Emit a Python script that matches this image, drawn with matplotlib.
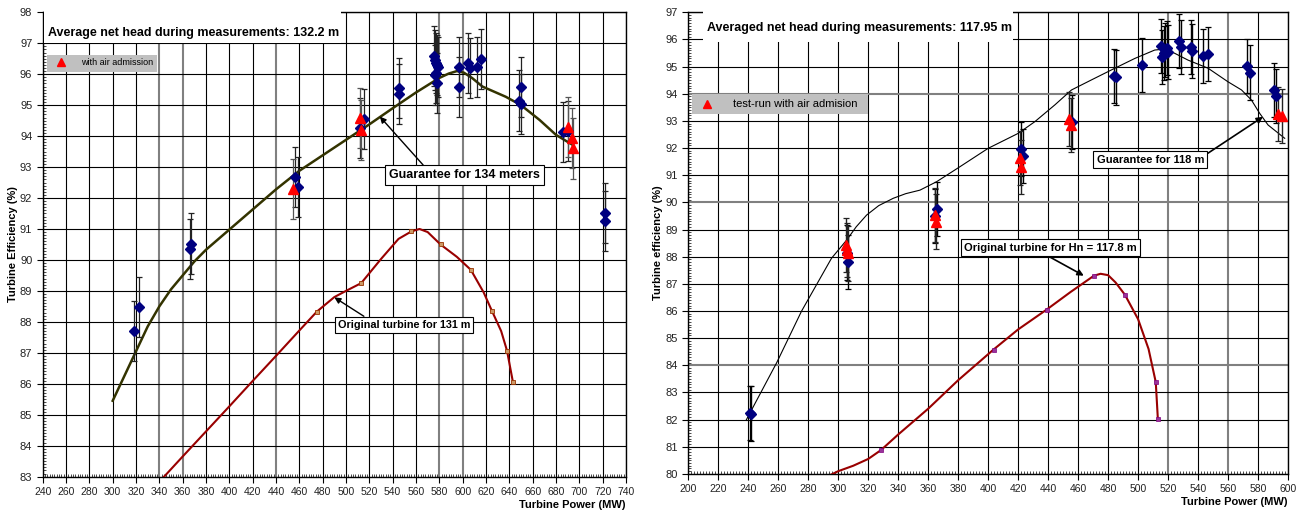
import numpy as np
import matplotlib
matplotlib.use("Agg")
import matplotlib.pyplot as plt
from matplotlib.patches import Rectangle

plt.rcParams['font.family'] = ['Liberation Sans', 'DejaVu Sans']

# ---------------- left chart (132.2 m) ----------------
g1_p = [300, 310, 320, 330, 340, 350, 360, 370, 380, 400, 420, 440, 460, 480, 500, 520,
        540, 560, 580, 588, 595, 601, 608, 617, 637, 650, 666, 680, 695]
g1_e = [85.45, 86.25, 87.05, 87.85, 88.5, 89.05, 89.5, 89.95, 90.33, 90.98, 91.63, 92.28,
        92.88, 93.38, 93.88, 94.38, 94.9, 95.41, 95.88, 96.02, 96.1, 96.05, 95.88, 95.6,
        95.27, 95.0, 94.52, 94.04, 93.7]

o1_p = [338, 360, 380, 400, 420, 440, 460, 475, 490, 500, 513, 530, 545, 556, 563, 570,
        581, 595, 607, 618, 625, 633, 638, 643]
o1_e = [82.75, 83.65, 84.46, 85.27, 86.09, 86.9, 87.72, 88.33, 88.8, 89.0, 89.25, 90.03,
        90.68, 90.92, 91.0, 90.9, 90.5, 90.1, 89.68, 88.95, 88.36, 87.7, 87.07, 86.07]
o1_mark_p = [475, 513, 556, 581, 607, 625, 638, 643]
o1_mark_e = [88.33, 89.25, 90.92, 90.5, 89.68, 88.36, 87.07, 86.07]

b1_p = [318.5, 322.8, 366.6, 367.5, 456.6, 458.6, 512.3, 515.1, 545.4, 545.6,
        575, 576, 577, 578, 579, 577, 576, 578,
        596.5, 596.5, 604.7, 606.7, 612.7, 615.3,
        648.4, 649.9, 650.4, 686.3, 690, 722.1, 722.1]
b1_e = [87.69, 88.47, 90.35, 90.53, 92.69, 92.37, 94.25, 94.55, 95.35, 95.55,
        96.59, 96.47, 96.36, 96.31, 96.23, 96.05, 95.97, 95.71,
        96.24, 95.6, 96.35, 96.19, 96.22, 96.49,
        95.15, 95.04, 95.6, 94.12, 94.17, 91.53, 91.26]
r1_p = [454.6, 512.3, 513, 690.5, 693.4, 694.3]
r1_e = [92.29, 94.57, 94.2, 94.28, 93.93, 93.6]
err1 = 0.97

# ---------------- right chart (117.95 m) ----------------
g2_p = [238.5, 259, 275.5, 295.5, 305.6, 312, 318.9, 327, 336.7, 345, 354.5, 365.6, 381.1,
        400, 420, 431.1, 444.5, 455.6, 468.9, 484.5, 497.8, 511.1, 516.7, 522.3, 533.3,
        546.7, 560, 569, 575.6, 581.1, 586.7, 597.8]
g2_e = [81.97, 84.1, 85.99, 87.94, 88.61, 89.1, 89.53, 89.88, 90.15, 90.32, 90.45, 90.76,
        91.31, 91.99, 92.54, 92.97, 93.59, 94.14, 94.51, 94.94, 95.3, 95.61, 95.64, 95.55,
        95.24, 94.94, 94.44, 94.14, 93.77, 93.28, 92.85, 92.36]

o2_p = [294.8, 300, 310, 320, 328.6, 340, 360, 380, 403.6, 420, 439, 455, 470.6, 475,
        480, 485, 491.2, 500, 507, 511.8, 513.2]
o2_e = [79.96, 80.1, 80.3, 80.55, 80.88, 81.45, 82.4, 83.45, 84.58, 85.32, 86.05, 86.7,
        87.3, 87.37, 87.32, 87.05, 86.6, 85.7, 84.6, 83.38, 82.02]
o2_mark_p = [328.6, 403.6, 439, 470.6, 491.2, 511.8, 513.2]
o2_mark_e = [80.88, 84.58, 86.05, 87.3, 86.6, 83.38, 82.02]

b2_p = [241, 242, 306.3, 306, 364.4, 365.6, 422.2, 423.3, 455.6, 484, 485, 502.3,
        515.6, 516, 517, 518, 519, 520, 527.1, 528.9, 535.6, 536, 543.3, 546.7,
        572.9, 574.9, 590.7, 592.2]
b2_e = [82.25, 82.22, 87.81, 88.15, 89.5, 89.76, 91.96, 91.72, 92.97, 94.65, 94.6, 95.06,
        95.75, 95.35, 95.5, 95.6, 95.68, 95.55, 95.95, 95.71, 95.73, 95.57, 95.4, 95.46,
        95.02, 94.78, 94.14, 93.92]
r2_p = [305.5, 306, 306.8, 364.8, 365.4, 421.1, 422, 453.8, 455.1, 593.3, 596]
r2_e = [88.43, 88.25, 88.12, 89.53, 89.29, 91.64, 91.31, 93.06, 92.85, 93.25, 93.19]
err2 = 1.0


def style_axes(ax, xlim, ylim, gray_x, gray_y):
    ax.set_xlim(*xlim)
    ax.set_ylim(*ylim)
    ax.set_xticks(np.arange(xlim[0], xlim[1] + 1, 20))
    ax.set_yticks(np.arange(ylim[0], ylim[1] + 1, 1))
    ax.set_xticks(np.arange(xlim[0], xlim[1] + 1, 2), minor=True)
    ax.set_yticks(np.arange(ylim[0], ylim[1] + 0.01, 0.1), minor=True)
    ax.tick_params(which='major', direction='out', length=4, width=0.8,
                   labelcolor='#222222')
    ax.tick_params(axis='x', which='major', labelsize=7.5)
    ax.tick_params(axis='y', which='major', labelsize=8)
    ax.tick_params(which='minor', direction='in', length=2.5, width=0.5)
    ax.grid(True, which='major', color='black', lw=0.8)
    for v, ln in zip(ax.get_xticks(), ax.get_xgridlines()):
        if v in gray_x:
            ln.set_color('#808080')
            ln.set_linewidth(1.5)
    for v, ln in zip(ax.get_yticks(), ax.get_ygridlines()):
        if v in gray_y:
            ln.set_color('#808080')
            ln.set_linewidth(1.5)
    ax.set_axisbelow(True)
    for s in ax.spines.values():
        s.set_linewidth(1.0)


fig = plt.figure(figsize=(13.05, 5.15), dpi=100)
ax1 = fig.add_axes([0.03272, 0.07456, 0.44697, 0.90155])
ax2 = fig.add_axes([0.52743, 0.07981, 0.45954, 0.89631])

# ---- left ----
style_axes(ax1, (240, 740), (83, 98), [340, 360, 440, 580, 600], [])
ax1.plot(g1_p, g1_e, color='#333300', lw=1.8, zorder=3)
ax1.plot(o1_p, o1_e, color='#990000', lw=1.5, zorder=3)
ax1.plot(o1_mark_p, o1_mark_e, 's', ms=3, mfc='#cc9966', mec='#993300', mew=0.6, zorder=4)
ax1.errorbar(b1_p, b1_e, yerr=err1, fmt='none', ecolor='#222222', elinewidth=0.9,
             capsize=2.5, capthick=0.9, zorder=4)
ax1.errorbar(r1_p, r1_e, yerr=err1, fmt='none', ecolor='#555555', elinewidth=0.9,
             capsize=2.5, capthick=0.9, zorder=4)
ax1.plot(b1_p, b1_e, 'D', ms=5, color='#000080', zorder=5)
ax1.plot(r1_p, r1_e, '^', ms=6.5, color='#ff0000', zorder=6)

ax1.add_patch(Rectangle((241, 97.02), 255, 1.2, facecolor='white', edgecolor='none',
                        zorder=2.6, clip_on=False))
ax1.text(0.009, 0.955, 'Average net head during measurements: 132.2 m', transform=ax1.transAxes,
         fontsize=9, fontweight='bold', va='center', ha='left', zorder=7)

ax1.add_patch(Rectangle((0.0069, 0.872), 0.1885, 0.036, transform=ax1.transAxes,
                        facecolor='#c0c0c0', edgecolor='none', zorder=6))
ax1.plot([0.0309], [0.892], '^', ms=6, color='#ff0000', transform=ax1.transAxes, zorder=7)
ax1.text(0.0657, 0.892, 'with air admission', transform=ax1.transAxes, fontsize=6.5,
         va='center', ha='left', zorder=7)

ax1.annotate('Guarantee for 134 meters', xy=(529, 94.63), xytext=(601.6, 92.74),
             fontsize=9, fontweight='bold', ha='center', va='center', zorder=8,
             bbox=dict(boxstyle='square,pad=0.3', fc='white', ec='black', lw=0.8),
             arrowprops=dict(arrowstyle='-|>', color='black', lw=1.0, relpos=(0.25, 1.0),
                             mutation_scale=9, shrinkA=0, shrinkB=0))
ax1.annotate('Original turbine for 131 m', xy=(490, 88.79), xytext=(549.7, 87.9),
             fontsize=7.8, fontweight='bold', ha='center', va='center', zorder=8,
             bbox=dict(boxstyle='square,pad=0.3', fc='white', ec='black', lw=0.8),
             arrowprops=dict(arrowstyle='-|>', color='black', lw=1.0, relpos=(0.24, 1.0),
                             mutation_scale=9, shrinkA=0, shrinkB=0))

ax1.set_ylabel('Turbine Efficiency (%)', fontsize=8, fontweight='bold', labelpad=1)
ax1.set_xlabel('Turbine Power (MW)', fontsize=8, fontweight='bold', loc='right', labelpad=2)

# ---- right ----
style_axes(ax2, (200, 600), (80, 97), [520, 560], [84, 90, 94])
ax2.plot(g2_p, g2_e, color='black', lw=0.8, zorder=3)
ax2.plot(o2_p, o2_e, color='#990000', lw=1.5, zorder=3)
ax2.plot(o2_mark_p, o2_mark_e, 's', ms=2.5, mfc='#993399', mec='#800080', mew=0.5, zorder=4)
ax2.errorbar(b2_p, b2_e, yerr=err2, fmt='none', ecolor='black', elinewidth=1.0,
             capsize=2.5, capthick=0.9, zorder=4)
ax2.errorbar(r2_p, r2_e, yerr=err2, fmt='none', ecolor='#222222', elinewidth=1.0,
             capsize=2.5, capthick=0.9, zorder=4)
ax2.plot(b2_p, b2_e, 'D', ms=5, color='#000080', zorder=5)
ax2.plot(r2_p, r2_e, '^', ms=6.5, color='#ff0000', zorder=6)

ax2.add_patch(Rectangle((210, 95.92), 206.5, 1.3, facecolor='white', edgecolor='none',
                        zorder=2.6, clip_on=False))
ax2.text(0.031, 0.966, 'Averaged net head during measurements: 117.95 m', transform=ax2.transAxes,
         fontsize=9, fontweight='bold', va='center', ha='left', zorder=7)

ax2.add_patch(Rectangle((0.0057, 0.779), 0.2944, 0.044, transform=ax2.transAxes,
                        facecolor='#c0c0c0', edgecolor='none', zorder=6))
ax2.plot([0.0307], [0.801], '^', ms=6, color='#ff0000', transform=ax2.transAxes, zorder=7)
ax2.text(0.0745, 0.801, 'test-run with air admision', transform=ax2.transAxes, fontsize=8,
         va='center', ha='left', zorder=7)

ax2.annotate('Guarantee for 118 m', xy=(583.3, 93.15), xytext=(508.2, 91.57),
             fontsize=8, fontweight='bold', ha='center', va='center', zorder=8,
             bbox=dict(boxstyle='square,pad=0.3', fc='white', ec='black', lw=0.8),
             arrowprops=dict(arrowstyle='-|>', color='black', lw=1.2, relpos=(1.0, 0.9),
                             mutation_scale=9, shrinkA=0, shrinkB=0))
ax2.annotate('Original turbine for Hn = 117.8 m', xy=(463.8, 87.3), xytext=(441.7, 88.33),
             fontsize=8, fontweight='bold', ha='center', va='center', zorder=8,
             bbox=dict(boxstyle='square,pad=0.3', fc='white', ec='black', lw=0.8),
             arrowprops=dict(arrowstyle='-|>', color='black', lw=1.2, relpos=(0.45, 0.0),
                             mutation_scale=9, shrinkA=0, shrinkB=0))

ax2.set_ylabel('Turbine efficiency (%)', fontsize=8, fontweight='bold', labelpad=2)
ax2.set_xlabel('Turbine Power (MW)', fontsize=8, fontweight='bold', loc='right', labelpad=2)

fig.savefig('out.png', dpi=100)
plt.close(fig)
